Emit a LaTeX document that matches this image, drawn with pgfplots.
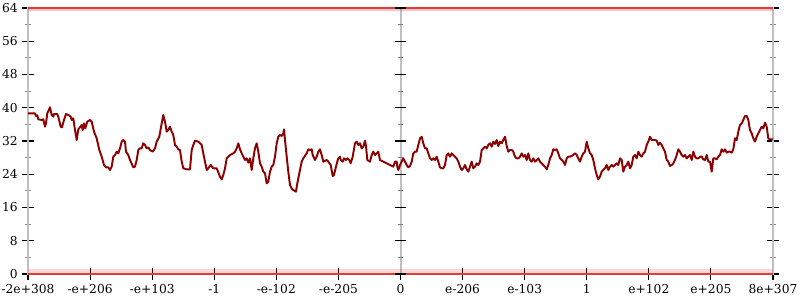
\documentclass[border=0pt]{standalone}
\usepackage{fontspec}
\setmainfont{DejaVu Serif}
\usepackage{pgfplots}
\pgfplotsset{compat=1.18}
\definecolor{curve}{HTML}{8B0000}
\definecolor{band}{HTML}{E03C3C}
\begin{document}
\begin{tikzpicture}
\useasboundingbox (-21pt,-19.5pt) rectangle (579pt,205.5pt);
\begin{axis}[
 at={(0pt,0pt)}, anchor=south west,
 scale only axis, width=558.75pt, height=199.5pt,
 xmin=28, xmax=773, ymin=0, ymax=64,
 xtick={28,90.08,152.17,214.25,276.33,338.42,400.5,462.58,524.67,586.75,648.83,710.92,773},
 xticklabels={-2e+308,-e+206,-e+103,-1,-e-102,-e-205,0,e-206,e-103,1,e+102,e+205,8e+307},
 ytick={0,8,...,64},
 minor y tick num=1,
 tick align=center,
 xtick pos=left,
 ytick pos=both,
 yticklabel pos=left,
 major tick length=8.5pt,
 minor tick length=4pt,
 axis line style={draw=gray!50, line width=1.5pt},
 major tick style={black, line width=0.8pt},
 minor tick style={gray, line width=0.6pt},
 tick label style={font=\fontsize{9.2}{10}\selectfont},
 /pgf/number format/assume math mode=true,
 clip=false,
]
% central axis
\addplot[gray!50, line width=1.5pt] coordinates {(400.5,0) (400.5,64)};
\addplot[only marks, mark=-, mark size=4.25pt, mark options={black, line width=0.8pt}] coordinates {(400.5,0)(400.5,8)(400.5,16)(400.5,24)(400.5,32)(400.5,40)(400.5,48)(400.5,56)(400.5,64)};
\addplot[only marks, mark=-, mark size=2pt, mark options={gray, line width=0.6pt}] coordinates {(400.5,4)(400.5,12)(400.5,20)(400.5,28)(400.5,36)(400.5,44)(400.5,52)(400.5,60)};
% red bands
\addplot[draw=none, fill=band, fill opacity=0.2] coordinates {(28,0)(773,0)(773,1.3)(28,1.3)} -- cycle;
\addplot[band, line width=1.6pt] coordinates {(28,0)(773,0)};
\addplot[draw=none, fill=band, fill opacity=0.3] coordinates {(28,63.2)(773,63.2)(773,64)(28,64)} -- cycle;
\addplot[band, line width=1.2pt] coordinates {(28,64)(773,64)};
% main curve
\addplot[curve, line width=1.45pt, line join=round] coordinates {
(28,38.66)(35.0,38.66)(36.0,38.02)(37.3,38.18)(38.3,37.22)(41.7,37.06)(43.3,37.22)(45.0,35.45)(46.0,36.25)(47.3,38.66)
(50.0,40.10)(51.7,38.26)(53.3,37.86)(54.0,38.50)(57.3,38.50)(58.7,37.46)(60.7,35.45)(62.0,35.29)(64.0,37.06)(66.0,38.50)
(68.3,38.26)(70.7,37.86)(71.7,37.06)(73.3,37.46)(75.0,34.65)(76.7,32.24)(78.3,34.81)(80.0,35.29)(81.7,35.85)(82.7,34.65)
(84.0,36.25)(85.3,35.05)(87.3,36.65)(90.0,37.06)(91.7,36.65)(94.0,34.25)(96.7,32.64)(99.3,29.84)(101.7,28.23)(104.0,26.23)
(106.0,25.67)(108.3,25.67)(110.0,25.02)(111.7,25.83)(113.3,28.23)(115.0,28.63)(116.7,29.43)(118.3,29.03)(120.0,30.24)(121.7,31.84)
(123.3,32.24)(125.0,31.84)(126.0,29.43)(128.3,28.63)(130.0,27.43)(133.3,25.67)(135.0,25.83)(136.7,27.43)(138.3,29.84)(140.0,30.24)
(141.7,30.24)(143.3,31.44)(145.0,31.04)(146.7,30.24)(148.3,30.48)(150.0,29.84)(152.7,29.43)(155.0,30.24)(156.7,31.84)(159.3,33.04)
(161.7,36.25)(163.3,38.26)(165.0,36.65)(166.7,34.25)(168.3,34.65)(170.0,35.45)(171.7,34.25)(173.3,33.45)(175.0,31.04)(176.7,30.64)
(178.3,30.00)(180.0,29.84)(181.7,27.03)(183.3,25.43)(186.7,25.19)(190.0,25.19)(191.7,29.84)(193.3,31.04)(195.0,32.08)(198.3,31.84)
(201.7,31.04)(203.3,29.03)(205.0,27.03)(206.7,25.02)(208.3,25.43)(210.7,26.23)(213.3,25.43)(216.7,25.43)(220.0,23.42)(221.7,22.78)
(223.3,23.82)(225.0,25.43)(226.7,27.83)(230.0,28.63)(233.3,29.03)(235.0,29.43)(236.7,30.24)(238.3,31.44)(240.0,30.00)(241.7,29.03)
(243.3,28.23)(245.0,27.43)(246.7,27.83)(248.3,26.79)(250.0,27.83)(251.7,25.02)(253.3,27.83)(255.0,30.24)(256.7,31.44)(258.3,29.43)
(260.0,26.63)(261.7,25.83)(263.3,24.62)(265.0,24.22)(266.7,21.82)(268.3,22.22)(270.0,24.62)(271.7,25.83)(273.3,26.23)(275.0,28.23)
(276.7,31.44)(278.3,33.04)(280.0,33.45)(281.7,33.21)(283.3,33.85)(284.0,34.81)(285.0,32.24)(286.7,28.23)(288.3,24.62)(290.0,21.42)
(291.7,20.61)(293.3,20.21)(296.0,19.81)(297.3,21.82)(299.3,24.22)(301.7,27.03)(303.3,27.83)(306.7,29.03)(308.3,30.00)(310.0,29.84)
(311.7,30.00)(312.7,28.63)(315.0,27.43)(316.7,28.23)(318.3,29.43)(320.0,30.00)(321.7,28.63)(323.3,27.03)(326.7,27.43)(328.3,27.03)
(330.7,26.23)(332.7,23.58)(334.0,23.82)(336.0,25.83)(337.3,27.03)(338.3,27.83)(340.0,28.23)(340.7,27.43)(342.7,27.03)(344.0,27.83)
(346.0,27.43)(347.3,27.83)(349.3,27.43)(350.7,26.63)(352.7,28.23)(355.0,31.44)(356.7,31.84)(358.3,31.04)(360.0,31.44)(361.7,30.24)
(363.3,30.64)(365.0,32.08)(366.0,30.80)(367.3,27.43)(370.0,27.03)(371.7,28.63)(373.3,29.43)(375.0,28.63)(376.7,29.03)(378.3,29.43)
(380.0,27.43)(383.3,27.03)(386.7,26.63)(390.0,26.23)(393.3,25.83)(395.0,27.03)(396.7,27.03)(397.3,25.83)(398.3,25.02)(400.0,26.23)
(401.7,27.03)(403.3,27.83)(405.0,27.03)(406.7,26.23)(408.3,25.67)(410.0,25.99)(411.7,27.03)(413.3,29.03)(415.0,29.43)(416.7,29.43)
(418.3,31.04)(420.0,32.64)(421.7,33.04)(423.3,31.44)(425.0,30.24)(426.7,30.24)(428.3,29.03)(430.0,27.83)(431.7,27.43)(433.3,27.83)
(435.0,27.43)(436.7,28.23)(438.3,27.03)(440.0,25.67)(441.7,25.43)(443.3,25.43)(445.0,26.23)(446.7,28.63)(448.3,29.03)(450.0,28.23)
(451.7,29.03)(453.3,28.63)(455.0,28.23)(456.7,27.83)(458.3,27.03)(460.0,25.83)(461.7,25.02)(463.3,25.43)(465.0,26.23)(466.7,25.19)
(468.3,24.62)(470.0,25.83)(471.7,27.03)(473.3,25.43)(475.0,25.83)(476.7,26.63)(478.3,26.23)(480.0,27.03)(481.7,29.84)(483.3,30.24)
(485.0,30.64)(486.7,30.24)(488.3,31.04)(490.0,31.44)(491.7,30.64)(493.3,31.84)(495.0,31.28)(496.7,32.24)(498.3,30.80)(500.0,31.84)
(501.7,31.44)(503.3,32.24)(505.0,33.04)(506.7,30.80)(508.3,29.43)(510.0,29.84)(511.7,29.84)(513.3,29.43)(515.0,28.23)(516.7,27.83)
(518.3,27.83)(520.0,28.23)(521.7,29.03)(523.3,28.23)(525.0,28.63)(526.7,27.43)(528.3,29.03)(530.0,27.43)(531.7,27.03)(533.3,27.83)
(535.0,27.03)(536.7,27.43)(538.3,27.83)(540.0,27.03)(541.7,26.63)(543.3,26.23)(545.0,25.83)(546.7,25.19)(548.3,26.23)(550.0,27.83)
(551.7,28.63)(553.3,30.00)(555.0,29.84)(556.7,30.00)(558.3,29.03)(560.0,27.83)(561.7,27.43)(563.3,27.03)(565.0,26.23)(566.7,27.83)
(568.3,28.23)(570.0,28.23)(571.7,28.39)(573.3,28.63)(575.0,29.03)(576.7,28.63)(578.3,27.83)(580.0,27.03)(581.7,28.23)(583.3,29.03)
(585.0,29.43)(586.7,31.84)(588.3,30.24)(590.0,29.03)(591.7,28.63)(593.3,27.43)(595.0,25.43)(596.7,23.82)(598.3,22.78)(600.0,23.42)
(601.7,24.62)(603.3,25.02)(605.0,25.43)(606.7,26.23)(608.3,25.02)(610.0,25.83)(611.7,26.23)(613.3,25.83)(615.0,26.23)(616.7,26.63)
(618.3,26.23)(620.0,27.83)(621.7,27.43)(623.3,24.62)(625.0,25.83)(626.7,26.23)(628.3,27.03)(630.0,25.43)(631.7,26.23)(633.3,28.23)
(635.0,28.63)(636.7,27.83)(638.3,29.43)(640.0,28.63)(641.7,28.23)(643.3,29.03)(645.0,29.43)(646.7,31.04)(648.3,31.84)(650.0,33.04)
(651.7,32.24)(653.3,32.24)(655.0,32.24)(656.7,32.08)(658.3,31.04)(660.0,31.60)(661.7,31.04)(663.3,30.24)(665.0,29.43)(666.7,27.43)
(668.3,27.03)(670.0,25.99)(671.7,26.23)(673.3,26.63)(675.0,27.43)(676.7,28.63)(678.3,30.00)(680.0,29.43)(681.7,28.63)(683.3,28.23)
(685.0,28.63)(686.7,27.83)(688.3,28.23)(690.0,28.63)(691.7,27.43)(693.3,29.43)(695.0,28.23)(696.7,27.83)(698.3,27.83)(700.0,28.23)
(701.7,28.23)(703.3,27.59)(705.0,27.43)(706.7,28.63)(708.3,27.03)(710.0,27.03)(711.7,24.62)(713.3,27.83)(715.0,27.83)(716.7,27.59)
(718.3,28.23)(720.0,28.63)(721.7,30.00)(723.3,29.43)(725.0,30.00)(726.7,29.20)(728.3,29.43)(730.0,29.43)(731.7,29.20)(733.3,30.00)
(735.0,32.64)(736.7,32.24)(738.3,34.25)(740.0,35.85)(741.7,36.25)(743.3,37.06)(745.0,38.02)(746.7,38.02)(748.3,37.06)(750.0,34.65)
(751.7,33.85)(753.3,32.64)(755.0,31.84)(756.7,33.04)(758.3,33.85)(760.0,34.65)(761.7,35.45)(763.3,35.05)(765.0,36.41)(766.7,35.45)
(768.3,32.64)(770.0,32.40)(773.0,32.40)
};
\end{axis}
\end{tikzpicture}
\end{document}
